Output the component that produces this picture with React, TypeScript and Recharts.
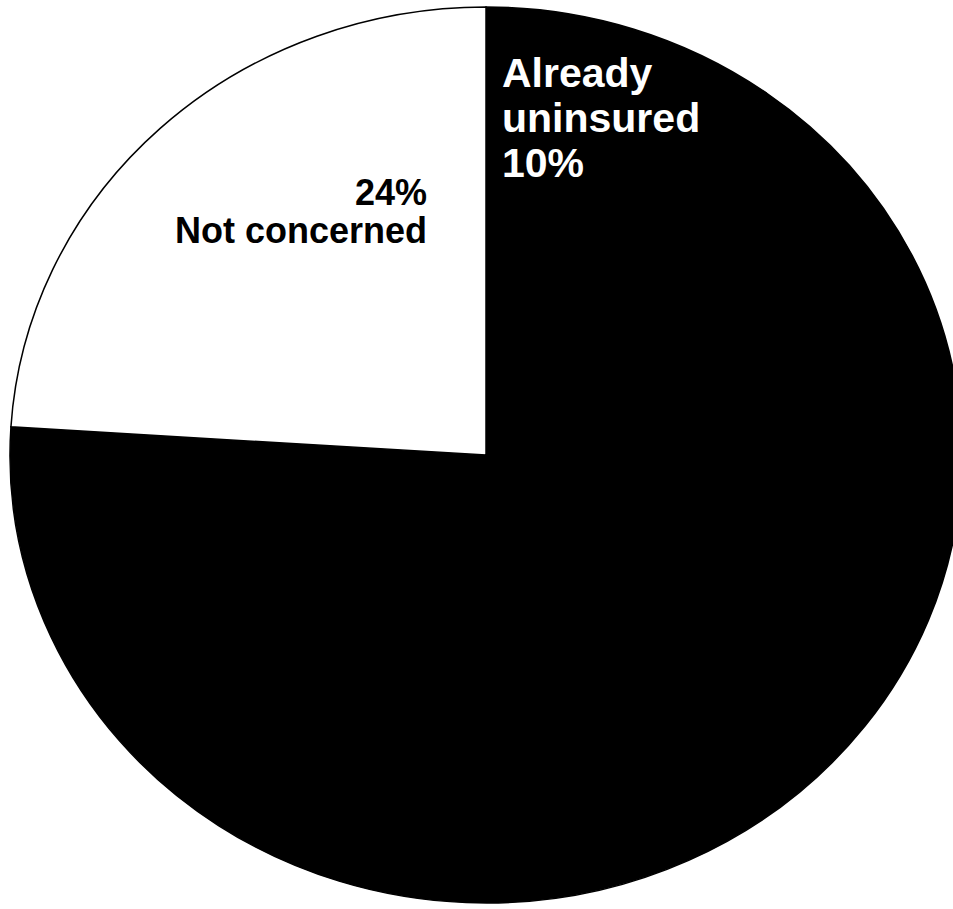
import React from 'react';
import { PieChart, Pie, Cell, Sector } from 'recharts';

const categories = ['Already uninsured', 'Concerned', 'Not concerned'];
const values = [10, 66, 24];
const sliceColors = ['#000000', '#000000', '#ffffff'];
const labelLines: string[][] = [['Already', 'uninsured', '10%'], [], ['24%', 'Not concerned']];

const data = categories.map((name, i) => ({ name, value: values[i] }));

const RX = 476;
const RY = 448;
const SX = RX / RY;
const FONT = '"Liberation Sans", Arial, Helvetica, sans-serif';

const EllipseSector = (props: any) => {
  const { cx, cy, innerRadius, outerRadius, startAngle, endAngle, fill, stroke, strokeWidth } = props;
  return (
    <g transform={`translate(${cx} ${cy}) scale(${SX} 1) translate(${-cx} ${-cy})`}>
      <Sector
        cx={cx}
        cy={cy}
        innerRadius={innerRadius}
        outerRadius={outerRadius}
        startAngle={startAngle}
        endAngle={endAngle}
        fill={fill}
        stroke={stroke}
        strokeWidth={strokeWidth}
        vectorEffect="non-scaling-stroke"
      />
    </g>
  );
};

const renderLabel = (p: any) => {
  const { cx, cy, index } = p;
  const lines = labelLines[index] || [];
  if (lines.length === 0) return null;
  if (index === 0) {
    const x = cx + 16;
    return (
      <text x={x} y={cy - 368} fill="#ffffff" fontSize={41} fontWeight="bold" fontFamily={FONT}>
        {lines.map((l, i) => (
          <tspan key={i} x={x} dy={i === 0 ? 0 : 45}>
            {l}
          </tspan>
        ))}
      </text>
    );
  }
  const x = cx - 59;
  return (
    <text x={x} y={cy - 250} fill="#000000" fontSize={36} fontWeight="bold" fontFamily={FONT} textAnchor="end">
      {lines.map((l, i) => (
        <tspan key={i} x={x} dy={i === 0 ? 0 : 38}>
          {l}
        </tspan>
      ))}
    </text>
  );
};

export default function App() {
  return (
    <div style={{ position: 'absolute', left: 0, top: 0, width: 953, height: 909, background: '#fff' }}>
      <PieChart width={953} height={909} margin={{ top: 0, right: 0, bottom: 0, left: 0 }}>
        <Pie
          data={data}
          dataKey="value"
          nameKey="name"
          cx={486}
          cy={455}
          innerRadius={0}
          outerRadius={RY}
          startAngle={90}
          endAngle={-270}
          stroke="#000000"
          strokeWidth={1.5}
          shape={EllipseSector}
          label={renderLabel}
          labelLine={false}
          isAnimationActive={false}
        >
          {data.map((d, i) => (
            <Cell key={d.name} fill={sliceColors[i]} />
          ))}
        </Pie>
      </PieChart>
    </div>
  );
}
